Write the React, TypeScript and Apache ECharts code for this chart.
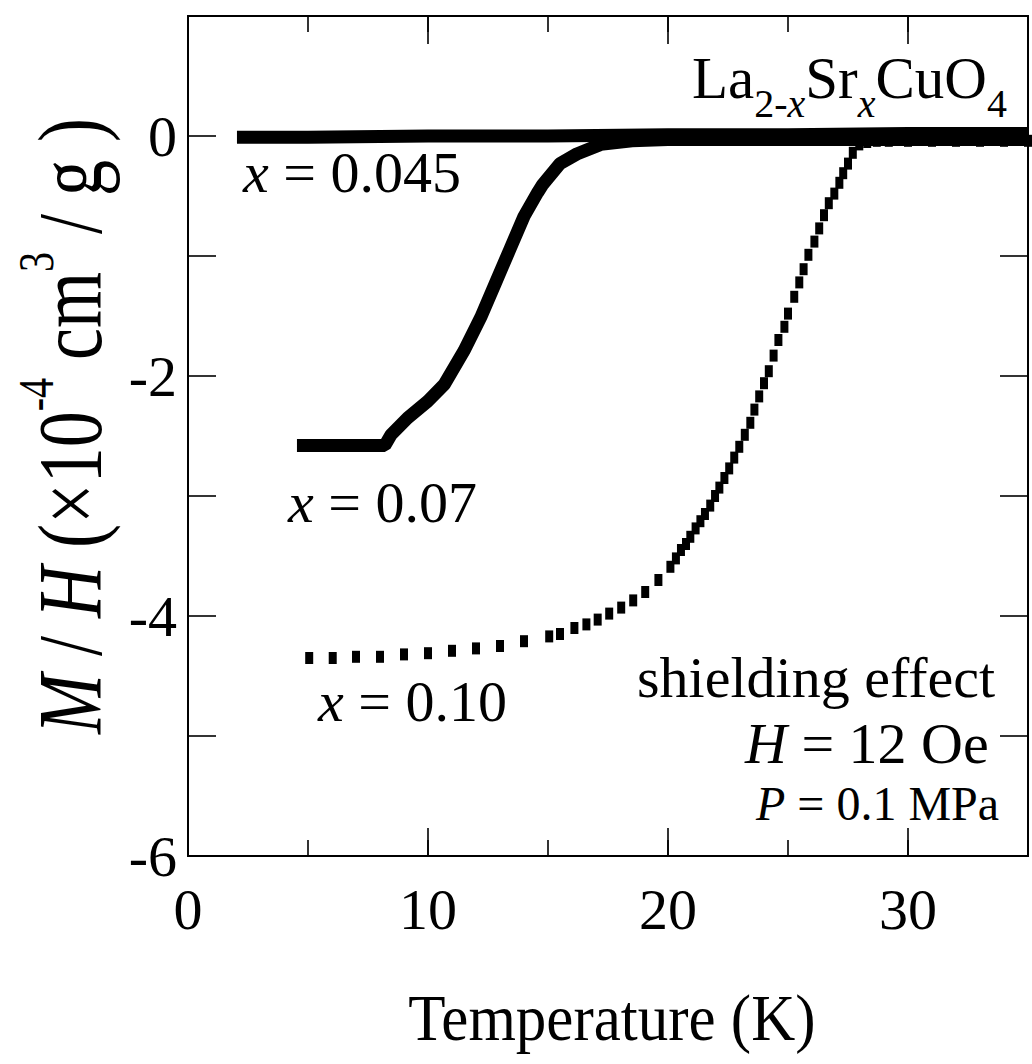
import React, { useEffect, useRef } from 'react';
import * as echarts from 'echarts';

// x = 0.045 (thick band near zero)
const T045 = [2.04, 5, 10, 15, 20, 25, 30, 35];
const M045 = [-0.01, -0.01, 0, 0, 0.01, 0.01, 0.02, 0.02];

// x = 0.07
const T07 = [4.54, 6.0, 8.2, 8.46, 9.15, 9.99, 10.68, 11.5, 12.2, 12.8, 13.4, 14.0, 14.57, 14.76, 15.5, 16.2, 17.2, 18.5, 20, 25, 30, 35];
const M07 = [-2.58, -2.58, -2.58, -2.49, -2.35, -2.21, -2.07, -1.79, -1.51, -1.23, -0.95, -0.67, -0.47, -0.41, -0.23, -0.15, -0.07, -0.04, -0.03, -0.03, -0.03, -0.03];

// x = 0.10 (discrete points)
const T10 = [5.05, 6.03, 7.0, 8.0, 9.0, 10.0, 11.0, 12.0, 13.0, 14.0, 15.05, 15.5, 16.1, 16.6, 17.07, 17.55, 18.05, 18.55, 19.05, 19.6, 20.1, 20.33, 20.54, 20.75, 20.93, 21.15, 21.35, 21.54, 21.76, 21.96, 22.14, 22.35, 22.55, 22.76, 22.97, 23.2, 23.43, 23.6, 23.8, 24.0, 24.2, 24.4, 24.6, 24.85, 25.0, 25.26, 25.47, 25.65, 25.85, 26.1, 26.3, 26.5, 26.7, 26.93, 27.14, 27.3, 27.5, 27.7, 27.97, 28.3, 28.7, 29.2, 30, 31, 32, 33, 34, 35];
const M10 = [-4.35, -4.35, -4.34, -4.34, -4.32, -4.31, -4.29, -4.27, -4.25, -4.21, -4.17, -4.15, -4.10, -4.07, -4.03, -3.98, -3.93, -3.87, -3.80, -3.70, -3.59, -3.52, -3.45, -3.40, -3.34, -3.27, -3.21, -3.15, -3.08, -3.00, -2.93, -2.85, -2.77, -2.68, -2.59, -2.49, -2.39, -2.28, -2.17, -2.06, -1.96, -1.83, -1.70, -1.59, -1.48, -1.34, -1.22, -1.11, -0.99, -0.88, -0.77, -0.66, -0.56, -0.48, -0.39, -0.31, -0.23, -0.14, -0.07, -0.05, -0.04, -0.04, -0.04, -0.04, -0.04, -0.04, -0.04, -0.04];

const X_MIN = 0;
const X_MAX = 35;
const Y_MIN = -6;
const Y_MAX = 1;

const FONT = 'Liberation Serif';

type Frag = { t: string; fs: number; it?: boolean; dy?: number };

function zip(a: number[], b: number[]) {
  return a.map((v, i) => [v, b[i]]);
}

let measureCtx: CanvasRenderingContext2D | null = null;
function fontStr(fs: number, it?: boolean) {
  return `${it ? 'italic ' : ''}${fs}px "${FONT}"`;
}
function textW(t: string, fs: number, it?: boolean) {
  if (!measureCtx) measureCtx = document.createElement('canvas').getContext('2d');
  if (!measureCtx) return t.length * fs * 0.5;
  measureCtx.font = fontStr(fs, it);
  return measureCtx.measureText(t).width;
}

// lay out fragments on a baseline starting at x0; returns text elements
function layout(frags: Frag[], x0: number, baseline: number) {
  let cx = x0;
  const out: any[] = [];
  for (const f of frags) {
    const dy = f.dy || 0;
    out.push({
      type: 'text',
      x: cx,
      y: baseline + dy - 0.8375 * f.fs,
      style: {
        text: f.t,
        font: fontStr(f.fs, f.it),
        lineHeight: f.fs,
        fill: '#000',
        align: 'left',
        verticalAlign: 'top',
      },
    });
    cx += textW(f.t, f.fs, f.it);
  }
  return { els: out, width: cx - x0 };
}

export default function App() {
  const ref = useRef<HTMLDivElement>(null);
  useEffect(() => {
    if (!ref.current) return;
    const chart = echarts.init(ref.current, null, { renderer: 'svg' });
    const lineStyle = { color: '#000', width: 2 };
    const tickStyle = { color: '#000', width: 1.6 };
    const mkX = (pos: string, interval: number, len: number, labels: boolean) => ({
      type: 'value',
      position: pos,
      min: X_MIN,
      max: X_MAX,
      interval,
      axisLine: { show: true, onZero: false, lineStyle },
      axisTick: { show: true, inside: true, length: len, lineStyle: tickStyle },
      axisLabel: labels
        ? {
            show: true,
            margin: 24,
            color: '#000',
            fontFamily: FONT,
            fontSize: 58,
            formatter: (v: number) => (v % 10 === 0 && v <= 30 ? String(v) : ''),
          }
        : { show: false },
      splitLine: { show: false },
    });
    const mkY = (pos: string, labels: boolean) => ({
      type: 'value',
      position: pos,
      min: Y_MIN,
      max: Y_MAX,
      interval: 1,
      axisLine: { show: true, onZero: false, lineStyle },
      axisTick: { show: true, inside: true, length: 28, lineStyle: tickStyle },
      axisLabel: labels
        ? {
            show: true,
            margin: 11,
            color: '#000',
            fontFamily: FONT,
            fontSize: 58,
            formatter: (v: number) => (v <= 0 && v % 2 === 0 ? String(v) : ''),
          }
        : { show: false },
      splitLine: { show: false },
    });

    // compound formula La2-xSrxCuO4
    const fM = 59;
    const fS = 40;
    const sub = 19;
    const formula = layout(
      [
        { t: 'La', fs: fM },
        { t: '2-', fs: fS, dy: sub },
        { t: 'x', fs: fS, it: true, dy: sub },
        { t: 'Sr', fs: fM },
        { t: 'x', fs: fS, it: true, dy: sub },
        { t: 'CuO', fs: fM },
        { t: '4', fs: fS, dy: sub },
      ],
      692,
      98
    );

    const lab045 = layout([{ t: 'x', fs: 58, it: true }, { t: ' = 0.045', fs: 58 }], 243, 192);
    const lab07 = layout([{ t: 'x', fs: 58, it: true }, { t: ' = 0.07', fs: 58 }], 288, 522);
    const lab10 = layout([{ t: 'x', fs: 58, it: true }, { t: ' = 0.10', fs: 58 }], 318, 721);
    const shield = layout([{ t: 'shielding effect', fs: 58 }], 637, 697);
    const hLab = layout([{ t: 'H', fs: 58, it: true }, { t: ' = 12 Oe', fs: 58 }], 745, 763);
    const pLab = layout([{ t: 'P', fs: 48, it: true }, { t: ' = 0.1 MPa', fs: 48 }], 756, 820);

    // x-axis title
    const tFs = 61;
    const tempLocal = layout([{ t: 'Temperature (K)', fs: tFs }], 0, 0);
    const tempGroup = {
      type: 'group',
      x: 612 - tempLocal.width / 2,
      y: 1040,
      scaleY: 1.08,
      children: tempLocal.els,
    };

    // y-axis title (rotated)
    const yFs = 72;
    const yS = 40;
    const supUp = -38;
    const yLocal = layout(
      [
        { t: 'M', fs: yFs, it: true },
        { t: ' / ', fs: yFs },
        { t: 'H', fs: yFs, it: true },
        { t: ' (×10', fs: yFs },
        { t: '-4', fs: yS, dy: supUp },
        { t: ' cm', fs: yFs },
        { t: '3', fs: yS, dy: supUp },
        { t: ' / g )', fs: yFs },
      ],
      0,
      0
    );
    const yGroup = {
      type: 'group',
      x: 101,
      y: 426 + yLocal.width / 2,
      rotation: Math.PI / 2,
      scaleY: 1.25,
      children: yLocal.els,
    };

    chart.setOption({
      animation: false,
      backgroundColor: '#fff',
      grid: { left: 188, right: 4, top: 16, bottom: 208, containLabel: false },
      xAxis: [
        mkX('bottom', 10, 28, true),
        mkX('bottom', 5, 16, false),
        mkX('top', 10, 28, false),
        mkX('top', 5, 16, false),
      ],
      yAxis: [mkY('left', true), mkY('right', false)],
      series: [
        {
          name: 'x = 0.045',
          type: 'line',
          data: zip(T045, M045),
          showSymbol: false,
          symbol: 'none',
          lineStyle: { color: '#000', width: 13, cap: 'butt' },
          z: 3,
        },
        {
          name: 'x = 0.07',
          type: 'line',
          data: zip(T07, M07),
          showSymbol: false,
          symbol: 'none',
          lineStyle: { color: '#000', width: 13, cap: 'butt', join: 'bevel' },
          z: 3,
        },
        {
          name: 'x = 0.10',
          type: 'scatter',
          data: zip(T10, M10),
          symbol: 'rect',
          symbolSize: [8, 12],
          itemStyle: { color: '#000', opacity: 1 },
          z: 3,
        },
      ],
      graphic: [
        ...formula.els,
        ...lab045.els,
        ...lab07.els,
        ...lab10.els,
        ...shield.els,
        ...hLab.els,
        ...pLab.els,
        tempGroup,
        yGroup,
      ],
    });
    return () => chart.dispose();
  }, []);
  return <div ref={ref} style={{ width: 1032, height: 1064, position: 'absolute', left: 0, top: 0 }} />;
}
